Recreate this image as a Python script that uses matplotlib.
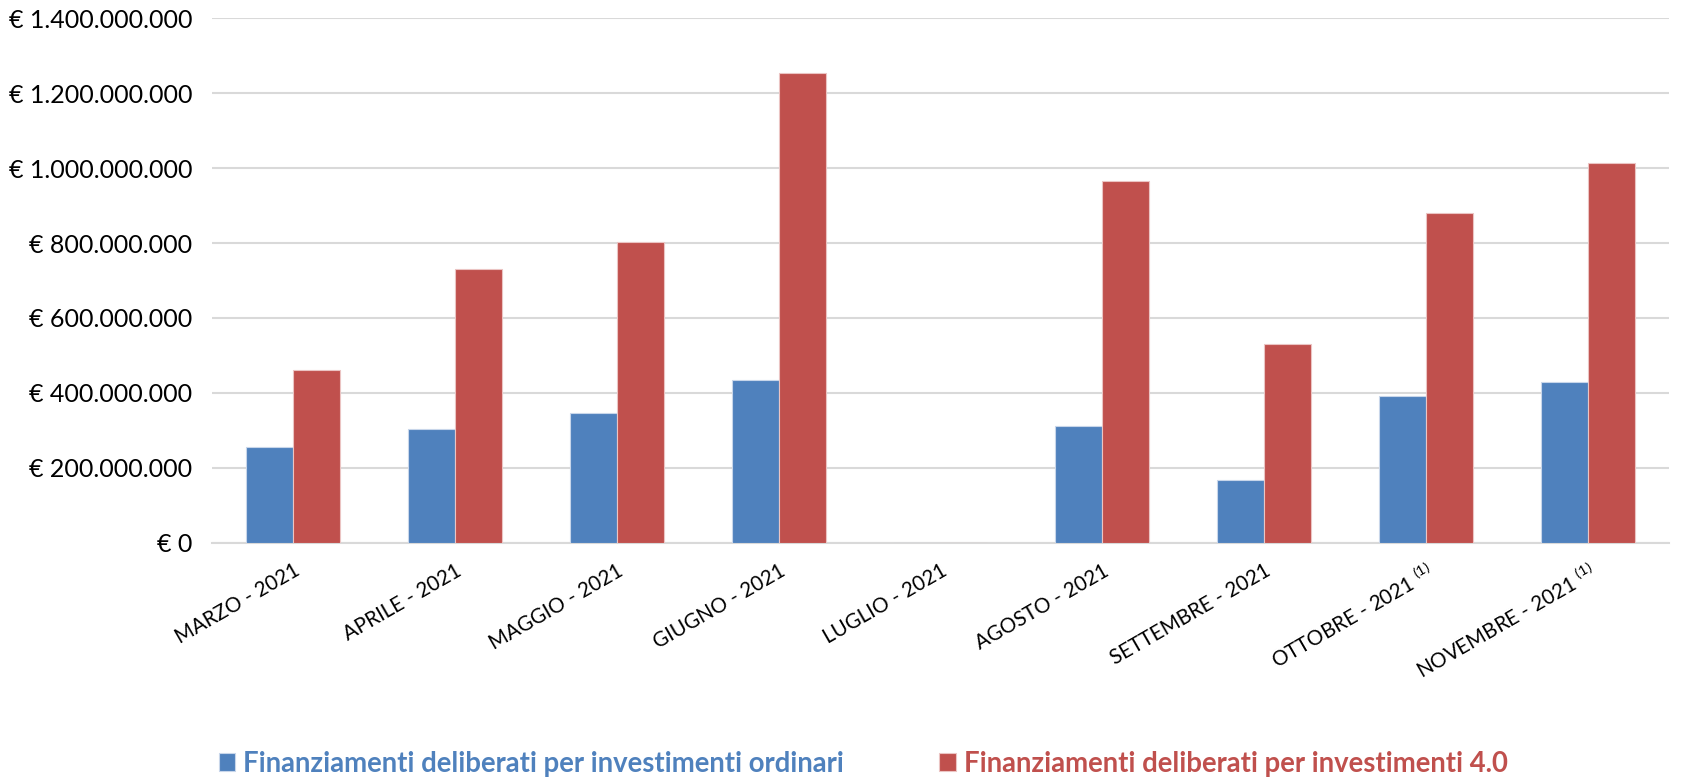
import numpy as np
import matplotlib
matplotlib.use("Agg")
import matplotlib.pyplot as plt
from matplotlib.ticker import FuncFormatter

plt.rcParams['font.family'] = ['Lato', 'DejaVu Sans']
plt.rcParams['mathtext.fontset'] = 'custom'
plt.rcParams['mathtext.rm'] = 'Lato'
plt.rcParams['mathtext.it'] = 'Lato:italic'

mesi = ["MARZO - 2021", "APRILE - 2021", "MAGGIO - 2021", "GIUGNO - 2021",
        "LUGLIO - 2021", "AGOSTO - 2021", "SETTEMBRE - 2021",
        "OTTOBRE - 2021 $^{\\mathit{(1)}}$", "NOVEMBRE - 2021 $^{\\mathit{(1)}}$"]
ordinari = [254e6, 304e6, 345e6, 434e6, 0, 311e6, 168e6, 392e6, 429e6]
inv_40 = [461e6, 731e6, 802e6, 1253e6, 0, 967e6, 530e6, 880e6, 1015e6]
nomi = ["Finanziamenti deliberati per investimenti ordinari",
        "Finanziamenti deliberati per investimenti 4.0"]
colori = ["#4F81BD", "#C0504D"]

fig = plt.figure(figsize=(16.88, 7.8), dpi=100)
ax = fig.add_axes([0.1256, 0.3044, 0.8631, 0.672])

x = np.arange(len(mesi))
w = 0.29
ax.bar(x - w/2, ordinari, w, color=colori[0], edgecolor="#C8D6EA", linewidth=0.8, label=nomi[0], zorder=3)
ax.bar(x + w/2, inv_40, w, color=colori[1], edgecolor="#EBC4C3", linewidth=0.8, label=nomi[1], zorder=3)

ax.set_xlim(-0.5, len(mesi) - 0.5)
ax.set_ylim(0, 1.4e9)
ax.set_yticks(np.arange(0, 1.41e9, 2e8))

def euro(v, pos):
    if v == 0:
        return "€ 0"
    return "€ " + "{:,.0f}".format(v).replace(",", ".")

ax.yaxis.set_major_formatter(FuncFormatter(euro))
ax.grid(axis="y", color="#D9D9D9", linewidth=1.5, zorder=0)
for s in ["top", "right", "left"]:
    ax.spines[s].set_visible(False)
ax.spines["bottom"].set_color("#D9D9D9")
ax.spines["bottom"].set_linewidth(1.5)
ax.tick_params(axis="y", length=0, pad=14, labelsize=18)
ax.tick_params(axis="x", length=0, pad=13)
ax.set_xticks(x)
ax.set_xticklabels(mesi, rotation=30, ha="right", rotation_mode="anchor", fontsize=14.8)

leg = ax.legend(loc="lower left", bbox_to_anchor=(0.1295, 0.004), bbox_transform=fig.transFigure,
                ncol=2, frameon=False, handlelength=0.6, handleheight=0.6,
                handletextpad=0.3, columnspacing=3.45, borderpad=0, borderaxespad=0,
                prop={"weight": "bold", "size": 19.8}, labelcolor=colori)

fig.savefig("out.png", dpi=100)
